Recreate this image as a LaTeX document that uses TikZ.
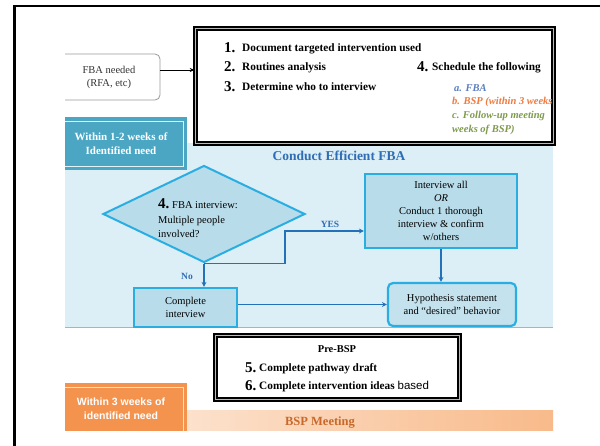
\documentclass[tikz,border=0pt]{standalone}
\usepackage{fontspec}
\setmainfont{Liberation Serif}
\newfontfamily\arialf{Liberation Sans}
\usetikzlibrary{shapes.geometric,arrows.meta}
\definecolor{bgblue}{HTML}{DCEEF6}
\definecolor{boxblue}{HTML}{B9DCEA}
\definecolor{hypblue}{HTML}{C4E2EE}
\definecolor{cyanline}{HTML}{2AAEE2}
\definecolor{arrblue}{HTML}{2372B9}
\definecolor{lblblue}{HTML}{2F6DB5}
\definecolor{tealbox}{HTML}{4BA6C3}
\definecolor{orabox}{HTML}{F4934E}
\definecolor{peach}{HTML}{FCE1CC}
\definecolor{peachdark}{HTML}{F8BA8A}
\definecolor{bspbrown}{HTML}{C8692A}
\definecolor{itblue}{HTML}{5B7FC0}
\definecolor{itorange}{HTML}{EE7A3E}
\definecolor{itgreen}{HTML}{7E9B4C}
\definecolor{sepline}{HTML}{9BB8C8}
\begin{document}
\begin{tikzpicture}[x=1pt,y=-1pt,
  dblbox/.style={draw=black, line width=1.7pt, double=gray!55, double distance=1.3pt, fill=white, inner sep=0},
  flowbox/.style={draw=cyanline, line width=2.2pt, fill=boxblue, inner sep=0, align=center, font=\fontsize{10.5}{13}\selectfont},
  arr/.style={draw=arrblue, line width=1.6pt, -{Stealth[length=5pt,width=5pt]}},
  lbl/.style={text=lblblue, font=\fontsize{9.5}{11}\selectfont\bfseries},
  num/.style={font=\fontsize{15}{15}\selectfont\bfseries, inner sep=0, anchor=west},
  btxt/.style={font=\fontsize{11.3}{13}\selectfont\bfseries, inner sep=0, anchor=west},
  ittxt/.style={font=\fontsize{10.5}{13}\selectfont\bfseries\itshape, inner sep=0, anchor=west}]
\useasboundingbox (0,0) rectangle (600,445);
\fill[white] (0,0) rectangle (600,445);
% outer frame
\draw[line width=2.6pt] (14.5,452) -- (14.5,6) -- (610,6);

\begin{scope}
\clip (65,20) rectangle (556,430);
% light blue area
\fill[bgblue] (65,143) rectangle (553,327);
\draw[sepline, line width=1pt] (65,327) -- (553,327);

% FBA needed
\node[draw=gray!80, line width=0.8pt, rounded corners=5pt, minimum width=102pt, minimum height=46pt, align=center, inner sep=0, font=\fontsize{10.5}{13}\selectfont, text=black!80] (fba) at (109,77) {FBA needed\\(RFA, etc)};

% top box
\node[dblbox, minimum width=358pt, minimum height=115pt] (box1) at (374.5,86) {};
\draw[line width=0.8pt, -{Stealth[length=5pt,width=4pt]}] ([yshift=7pt]fba.east) -- ([yshift=7pt]fba.east -| box1.west);

\node[num] (n1) at (224,48) {1.};
\node[btxt] (t1) at (242,48.5) {Document targeted intervention used};
\node[num] (n2) at (224,67) {2.};
\node[btxt] (t2) at (242,67.5) {Routines analysis};
\node[num] (n3) at (224,86.5) {3.};
\node[btxt] (t3) at (242,87) {Determine who to interview};
\node[num] (n4) at (417,67) {4.};
\node[btxt] (t4) at (432,67.5) {Schedule the following};
\begin{scope}
\clip (400,75) rectangle (551,140);
\node[ittxt, text=itblue] (ta) at (454,88) {a. FBA};
\node[ittxt, text=itorange] (tb) at (452,101.5) {b. BSP (within 3 weeks};
\node[ittxt, text=itgreen] (tc) at (452,115.5) {c. Follow-up meeting};
\node[ittxt, text=itgreen] (td) at (452,129.5) {weeks of BSP)};
\end{scope}

% teal label
\fill[tealbox] (65,117) rectangle (187,170);
\draw[white!85!tealbox, line width=0.8pt] (60,121) -| (183,166) -- (60,166);
\node[text=white, align=center, font=\fontsize{11}{14}\selectfont\bfseries] (teal) at (121,143.5) {Within 1-2 weeks of\\Identified need};

\node[text=lblblue, font=\fontsize{13.5}{15}\selectfont\bfseries] (conduct) at (339,156) {Conduct Efficient FBA};

% diamond
\node[diamond, draw=cyanline, line width=2pt, fill=boxblue, minimum width=202pt, minimum height=97pt, inner sep=0] (d) at (204,214) {};
\node[num] (n4b) at (158,204) {4.};
\node[anchor=west, inner sep=0, font=\fontsize{10.5}{13}\selectfont] (dt1) at (172,205) {FBA interview:};
\node[anchor=west, inner sep=0, font=\fontsize{10.5}{13}\selectfont] (dt2) at (158,220.5) {Multiple people};
\node[anchor=west, inner sep=0, font=\fontsize{10.5}{13}\selectfont] (dt3) at (158,234) {involved?};

% boxes
\node[flowbox, minimum width=152pt, minimum height=74pt] (int) at (441,211) {Interview all\\\textit{OR}\\Conduct 1 thorough\\interview \& confirm\\w/others};
\node[flowbox, fill=hypblue, rounded corners=5pt, minimum width=128pt, minimum height=43pt] (hyp) at (452,304.5) {Hypothesis statement\\and “desired” behavior};
\node[flowbox, minimum width=103pt, minimum height=39pt] (comp) at (185.5,307.5) {Complete\\interview};

% connectors
\coordinate (yc) at (285,231);
\draw[arr] (d.south) -- (d.south |- comp.north);
\draw[arr] (d.south) -| (yc) -- (yc -| int.west);
\draw[arr] (int.south) -- (int.south |- hyp.north);
\draw[arr] (hyp.west -| comp.east) -- (hyp.west);
\node[lbl] (no) at (187,276.5) {No};
\node[lbl] (yes) at (330,224.5) {YES};

% Pre-BSP
\node[dblbox, minimum width=244pt, minimum height=64pt] (pre) at (337.5,367.5) {};
\node[font=\fontsize{10.5}{13}\selectfont\bfseries, inner sep=0] (pret) at (337,349) {Pre-BSP};
\node[num] (n5) at (245,368) {5.};
\node[btxt] (t5) at (259,368.5) {Complete pathway draft};
\node[num] (n6) at (245,386) {6.};
\node[btxt] (t6) at (259,386.5) {Complete intervention ideas \mdseries\arialf\fontsize{11.5}{13}\selectfont based};

% orange band
\shade[left color=peach, right color=peachdark] (187,410) rectangle (553,430);
\node[text=bspbrown, font=\fontsize{12.5}{14}\selectfont\bfseries] (bsp) at (320,422.5) {BSP Meeting};

% orange label
\fill[orabox] (65,383) rectangle (187,440);
\draw[white!70!orabox, line width=0.8pt] (60,387) -| (183,440);
\node[text=white, align=center, font=\arialf\fontsize{10.5}{14.5}\selectfont\bfseries] (ora) at (121,408.5) {Within 3 weeks of\\identified need};
\end{scope}
\end{tikzpicture}
\end{document}
